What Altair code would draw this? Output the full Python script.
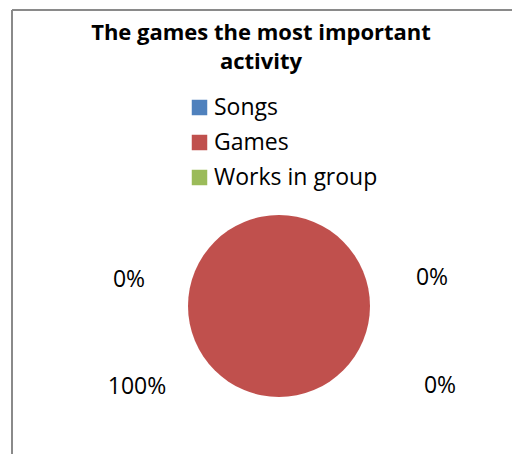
import altair as alt
import pandas as pd

# ---- data ----
categories = ["Songs", "Games", "Works in group"]
values = [0, 100, 0]
colors = ["#4F81BD", "#C0504D", "#9BBB59"]
title_lines = ["The games the most important", "activity"]
label_texts = ["0%", "0%", "100%", "0%"]

df = pd.DataFrame({"category": categories, "value": values, "idx": list(range(len(categories)))})

# ---- layout (pixels, chart coordinates) ----
W, H = 504, 446
CX, CY, R = 271, 298, 91
FONT = "Open Sans"
label_pos = [(121, 272), (424, 270), (129, 379), (432, 378)]

one = alt.Data(values=[{}])

border = alt.Chart(one).mark_rule(color="#8a8a8a", strokeWidth=2).encode(
    x=alt.value(4), x2=alt.value(W + 20), y=alt.value(2)
) + alt.Chart(one).mark_rule(color="#8a8a8a", strokeWidth=2).encode(
    x=alt.value(4), y=alt.value(2), y2=alt.value(H + 20)
)

title = alt.Chart(one).mark_text(
    text=title_lines, font=FONT, fontSize=22, fontWeight="bold", color="#000000",
    align="center", baseline="alphabetic", lineHeight=29,
).encode(x=alt.value(253), y=alt.value(32))

pie = alt.Chart(df).mark_arc(outerRadius=R, strokeWidth=0).encode(
    theta=alt.Theta("value:Q", stack=True),
    order=alt.Order("idx:Q"),
    color=alt.Color(
        "category:N",
        scale=alt.Scale(domain=categories, range=colors),
        sort=categories,
        legend=alt.Legend(
            orient="none", legendX=180, legendY=88, title=None,
            symbolType="square", symbolSize=240, symbolStrokeWidth=0,
            labelFont=FONT, labelFontSize=23, labelColor="#000000",
            labelOffset=3, rowPadding=11, labelLimit=400,
        ),
    ),
    x=alt.value(CX),
    y=alt.value(CY),
)

labels = [
    alt.Chart(one).mark_text(
        text=t, font=FONT, fontSize=23, color="#000000", align="center", baseline="middle"
    ).encode(x=alt.value(p[0]), y=alt.value(p[1]))
    for t, p in zip(label_texts, label_pos)
]

chart = alt.layer(border, title, pie, *labels).properties(
    width=W, height=H, autosize=alt.AutoSizeParams(type="none"), padding=0, background="white"
).configure_view(stroke=None)

chart.save("out.html", embed_options={"renderer": "svg", "actions": False})
